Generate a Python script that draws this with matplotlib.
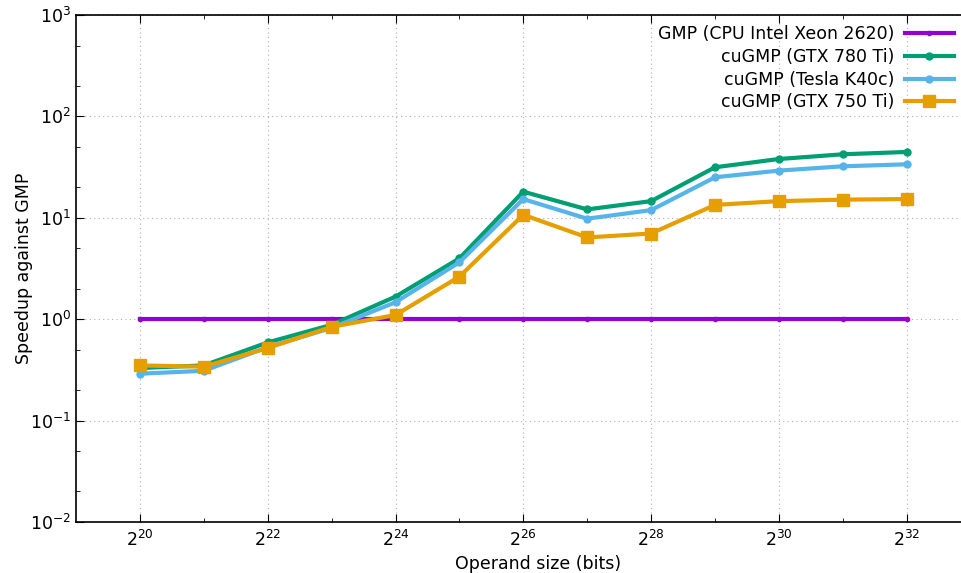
import numpy as np
import matplotlib
matplotlib.use("Agg")
import matplotlib.pyplot as plt
from matplotlib.ticker import LogLocator, FixedLocator, NullFormatter

# operand sizes as powers of two
exps = [20, 21, 22, 23, 24, 25, 26, 27, 28, 29, 30, 31, 32]
gmp = [1, 1, 1, 1, 1, 1, 1, 1, 1, 1, 1, 1, 1]
gtx780 = [0.33, 0.35, 0.59, 0.88, 1.67, 3.98, 18.1, 12.1, 14.6, 31.5, 38.0, 42.3, 44.6]
k40c = [0.29, 0.31, 0.53, 0.82, 1.47, 3.64, 15.3, 9.8, 11.9, 25.1, 29.2, 32.2, 33.7]
gtx750 = [0.35, 0.34, 0.52, 0.84, 1.10, 2.63, 10.7, 6.4, 7.0, 13.4, 14.6, 15.1, 15.3]

labels = ["GMP (CPU Intel Xeon 2620)", "cuGMP (GTX 780 Ti)",
          "cuGMP (Tesla K40c)", "cuGMP (GTX 750 Ti)"]

plt.rcParams['font.family'] = ['DejaVu Sans']
plt.rcParams['font.size'] = 12.5
plt.rcParams['axes.unicode_minus'] = False

x = [2.0 ** e for e in exps]

fig = plt.figure(figsize=(9.61, 5.73), dpi=100)
ax = fig.add_axes([76 / 961, 1 - 522 / 573, (1000 - 76) / 961, (522 - 15) / 573])

ax.plot(x, gmp, color="#9400d3", lw=3, marker="o", ms=3, label=labels[0])
ax.plot(x, gtx780, color="#009e73", lw=3, marker="o", ms=5, label=labels[1])
ax.plot(x, k40c, color="#56b4e9", lw=3, marker="o", ms=5, label=labels[2])
ax.plot(x, gtx750, color="#e69f00", lw=3, marker="s", ms=8, label=labels[3])

ax.set_xscale("log", base=2)
ax.set_yscale("log")
ax.set_xlim(2.0 ** 19, 2.0 ** 33.46)
ax.set_ylim(1e-2, 1e3)

ax.xaxis.set_major_locator(FixedLocator([2.0 ** e for e in range(20, 33, 2)]))
ax.xaxis.set_minor_locator(FixedLocator([2.0 ** e for e in range(21, 33, 2)]))
ax.xaxis.set_major_formatter(plt.FuncFormatter(lambda v, p: "$2^{%d}$" % round(np.log2(v))))
ax.xaxis.set_minor_formatter(NullFormatter())
ax.yaxis.set_major_locator(LogLocator(base=10, numticks=10))
ax.yaxis.set_minor_locator(LogLocator(base=10, subs=[2, 5], numticks=10))
ax.yaxis.set_minor_formatter(NullFormatter())

ax.tick_params(which="both", direction="in", top=True, right=True)
ax.tick_params(which="major", length=6)
ax.tick_params(which="minor", length=3)
ax.tick_params(axis="x", pad=6)
ax.grid(True, which="major", linestyle=(0, (1, 3)), color="#b0b0b0", lw=0.8)
for s in ax.spines.values():
    s.set_linewidth(1.2)

ax.set_xlabel("Operand size (bits)", labelpad=3)
ax.set_ylabel("Speedup against GMP", labelpad=-2)

ax.legend(loc="upper right", bbox_to_anchor=((964 - 76) / (1000 - 76), 1.0),
          frameon=False, markerfirst=False, handlelength=2.8, handletextpad=0.6,
          labelspacing=0.27, borderaxespad=0.2)
for t in ax.get_legend().get_texts():
    t.set_ha("right")

fig.savefig("out.png", dpi=100)
